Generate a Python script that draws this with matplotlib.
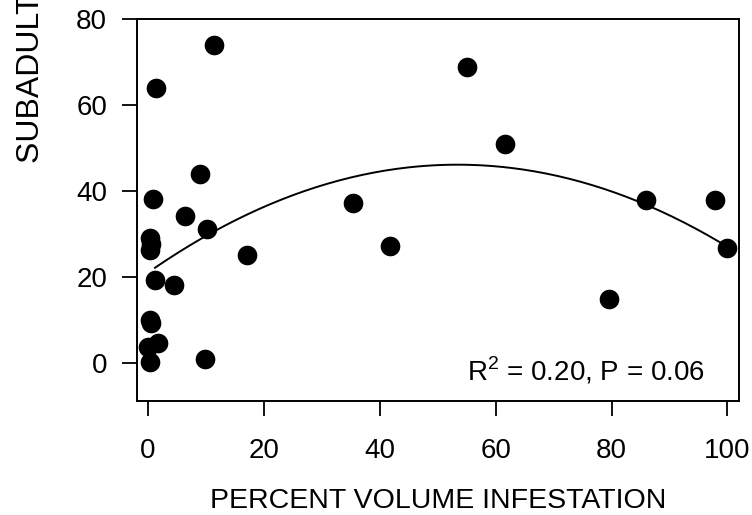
import matplotlib
matplotlib.use("Agg")
import matplotlib.pyplot as plt
import numpy as np

# percent volume infestation vs. subadults, one point per site
infestation = [11.4, 1.4, 9.0, 0.9, 6.3, 10.2, 0.4, 0.5, 0.4, 17.0, 1.2, 4.4,
               0.3, 0.6, 1.7, 0.0, 0.3, 9.8, 35.4, 41.8, 55.0, 61.6, 86.0,
               97.8, 99.9, 79.6]
subadults = [73.9, 63.9, 44.0, 38.2, 34.1, 31.2, 29.0, 27.6, 26.3, 25.0, 19.2,
             18.2, 9.9, 9.2, 4.5, 3.7, 0.2, 1.0, 37.2, 27.1, 68.9, 50.8, 37.9,
             37.9, 26.8, 14.8]

# quadratic regression (highest power first) and its x range
fit_coef = [-0.0088, 0.94, 21.0]
fit_x_range = (1.2, 100.0)
r_squared = 0.20
p_value = 0.06

x_ticks = [0, 20, 40, 60, 80, 100]
y_ticks = [0, 20, 40, 60, 80]

plt.rcParams['font.family'] = ['Liberation Sans', 'DejaVu Sans']

fig = plt.figure(figsize=(7.52, 5.15), dpi=100)
ax = fig.add_axes([0.1822, 0.2204, 0.8005, 0.7427])

ax.scatter(infestation, subadults, s=200, color='black', zorder=3,
           linewidths=0)

xs = np.linspace(fit_x_range[0], fit_x_range[1], 200)
ax.plot(xs, np.polyval(fit_coef, xs), color='black', lw=1.4, zorder=2)

ax.text(96.1, -4.0,
        r'R$^\mathregular{2}$ = %.2f, P = %.2f' % (r_squared, p_value),
        ha='right', va='baseline', fontsize=20)

ax.set_xlim(-1.9, 102)
ax.set_ylim(-9, 80)
ax.set_xticks(x_ticks)
ax.set_yticks(y_ticks)
ax.tick_params(direction='out', length=10.5, width=1.3, labelsize=20,
               color='black')
ax.tick_params(axis='x', pad=16)
ax.tick_params(axis='y', pad=11)
for side in ax.spines.values():
    side.set_linewidth(1.4)
    side.set_color('black')

ax.set_xlabel('PERCENT VOLUME INFESTATION', fontsize=20.5, labelpad=17)
# axis title runs off the top of the figure
fig.text(31 / 752, 1 - 163 / 515, 'SUBADULTS (%)', rotation=90,
         ha='center', va='bottom', fontsize=23)

fig.savefig('out.png', dpi=100)
